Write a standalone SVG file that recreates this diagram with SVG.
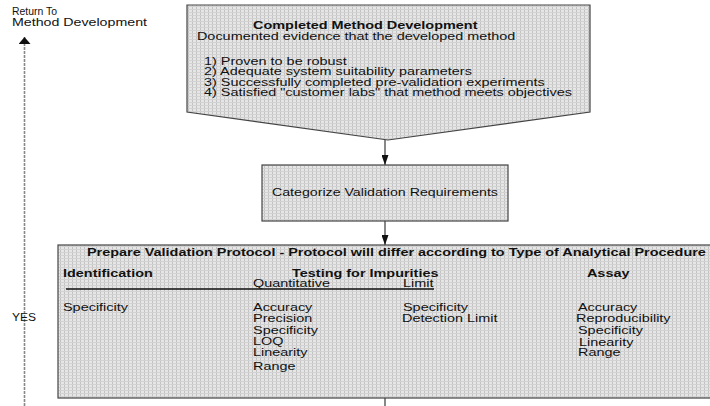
<svg xmlns="http://www.w3.org/2000/svg" width="710" height="406" viewBox="0 0 710 406">
  <defs>
    <!-- halftone grey fill used by every box -->
    <pattern id="halftone" width="4" height="3" patternUnits="userSpaceOnUse">
      <rect width="4" height="3" fill="#e6e6e6"/>
      <rect width="1" height="3" fill="#c2c2c2"/>
      <rect width="4" height="1" fill="#d2d2d2"/>
    </pattern>
    <marker id="arrow" viewBox="0 0 10 7" refX="10" refY="3.5" markerWidth="10" markerHeight="7" markerUnits="userSpaceOnUse" orient="auto">
      <path d="M0,0 L10,3.5 L0,7 Z" fill="#111"/>
    </marker>
    <marker id="arrowBig" viewBox="0 0 7 12" refX="7" refY="6" markerWidth="7" markerHeight="12" markerUnits="userSpaceOnUse" orient="auto">
      <path d="M0,0 L7,6 L0,12 Z" fill="#111"/>
    </marker>
  </defs>
  <style>
    .box { fill: url(#halftone); stroke: #444; stroke-width: 1.2; }
    .t { font-family: "Liberation Sans", Arial, Helvetica, sans-serif; font-size: 10px; fill: #111; }
    .s { font-size: 11px; }
    .b { font-weight: bold; }
    .conn { stroke: #555; stroke-width: 1.4; fill: none; }
    .side { stroke: #888; stroke-width: 1.6; stroke-dasharray: 3 1; fill: none; }
  </style>

  <rect width="710" height="406" fill="#ffffff"/>

  <!-- connectors -->
  <g id="connectors">
    <line class="side" x1="24.5" y1="406" x2="24.5" y2="37" marker-end="url(#arrowBig)"/>
    <line class="conn" x1="385" y1="140" x2="385" y2="165" marker-end="url(#arrow)"/>
    <line class="conn" x1="385" y1="221" x2="385" y2="245" marker-end="url(#arrow)"/>
    <line class="conn" x1="385" y1="398" x2="385" y2="406"/>
  </g>

  <!-- side labels -->
  <g id="return-label">
    <text class="t" x="12" y="15" textLength="45" lengthAdjust="spacingAndGlyphs">Return To</text>
    <text class="t" x="12" y="26" textLength="135" lengthAdjust="spacingAndGlyphs">Method Development</text>
  </g>
  <g id="yes-label">
    <text class="t" x="12" y="321" textLength="24" lengthAdjust="spacingAndGlyphs">YES</text>
  </g>

  <!-- completed method development -->
  <g id="completed">
    <polygon class="box" points="187,5 590,5 590,112 388,140 187,112"/>
    <g transform="scale(1.445 1)">
      <text class="t b" x="175.1" y="29">Completed Method Development</text>
      <text class="t" x="136.3" y="40">Documented evidence that the developed method</text>
      <text class="t" x="141.2" y="65">1) Proven to be robust</text>
      <text class="t" x="141.2" y="75.5">2) Adequate system suitability parameters</text>
      <text class="t" x="141.2" y="86">3) Successfully completed pre-validation experiments</text>
      <text class="t" x="141.2" y="96.5">4) Satisfied "customer labs" that method meets objectives</text>
    </g>
  </g>

  <!-- categorize -->
  <g id="categorize">
    <rect class="box" x="262" y="165" width="246" height="56"/>
    <g transform="scale(1.445 1)">
      <text class="t s" x="266.4" y="196" text-anchor="middle" textLength="156.4" lengthAdjust="spacingAndGlyphs">Categorize Validation Requirements</text>
    </g>
  </g>

  <!-- validation protocol -->
  <g id="protocol">
    <rect class="box" x="58" y="245" width="670" height="153"/>
    <line x1="66" y1="289" x2="434" y2="289" stroke="#111" stroke-width="1.3"/>
    <g transform="scale(1.445 1)">
      <text class="t b" x="60.2" y="256">Prepare Validation Protocol - Protocol will differ according to Type of Analytical Procedure</text>
      <text class="t b" x="43.6" y="277">Identification</text>
      <text class="t b" x="202.1" y="277">Testing for Impurities</text>
      <text class="t b" x="406.2" y="277">Assay</text>
      <text class="t" x="175.1" y="287">Quantitative</text>
      <text class="t" x="278.9" y="287">Limit</text>

      <text class="t" x="43.6" y="311">Specificity</text>

      <text class="t" x="175.1" y="311">Accuracy</text>
      <text class="t" x="175.1" y="322">Precision</text>
      <text class="t" x="175.1" y="334">Specificity</text>
      <text class="t" x="175.1" y="345">LOQ</text>
      <text class="t" x="175.1" y="356">Linearity</text>
      <text class="t" x="175.1" y="370">Range</text>

      <text class="t" x="278.9" y="311">Specificity</text>
      <text class="t" x="278.2" y="322">Detection Limit</text>

      <text class="t" x="400" y="311">Accuracy</text>
      <text class="t" x="398.6" y="322">Reproducibility</text>
      <text class="t" x="400" y="334.5">Specificity</text>
      <text class="t" x="400.7" y="346">Linearity</text>
      <text class="t" x="400" y="356">Range</text>
    </g>
  </g>
</svg>
